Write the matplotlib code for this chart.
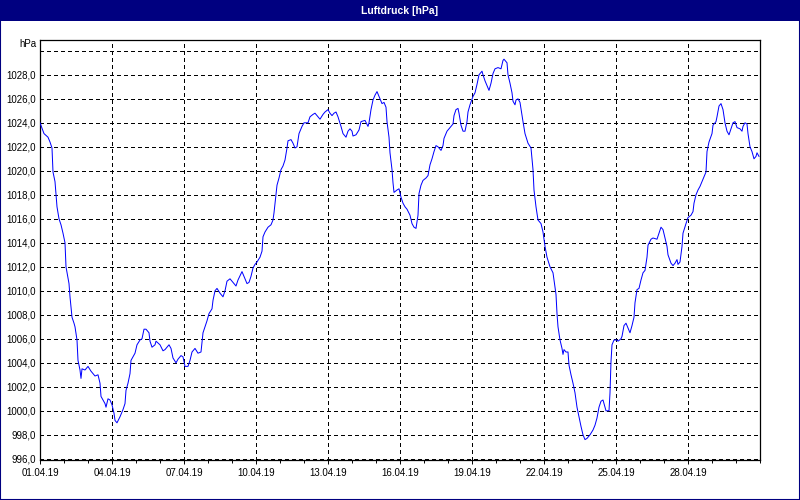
import numpy as np
import matplotlib
matplotlib.use("Agg")
import matplotlib.pyplot as plt
from matplotlib.patches import Rectangle
from matplotlib.ticker import MultipleLocator

# hours since 01.04.19 00:00
hours = [0, 4, 8, 10, 12, 13, 15, 16, 17, 19, 21, 23, 25, 26, 29, 30, 32, 34, 35, 37,
         38, 40, 41, 42, 45, 48, 51, 55, 58, 60, 61, 65, 66, 68, 70, 72, 74, 75, 77, 80,
         83, 85, 86, 88, 90, 91, 95, 97, 100, 102, 104, 106, 109, 110, 112, 115, 116, 120, 123, 125,
         129, 131, 133, 136, 138, 141, 143, 145, 148, 150, 152, 155, 158, 161, 163, 165, 167, 169, 172, 173,
         175, 177, 180, 183, 185, 187, 190, 193, 196, 198, 202, 204, 207, 209, 211, 213, 215, 217, 220, 222,
         223, 225, 228, 231, 233, 234, 236, 237, 239, 241, 243, 245, 247, 248, 251, 253, 255, 257, 259, 262,
         264, 268, 270, 273, 275, 277, 280, 283, 285, 288, 290, 292, 294, 296, 298, 301, 303, 306, 308, 310,
         312, 313, 316, 319, 321, 325, 328, 329, 331, 333, 335, 337, 339, 342, 344, 346, 347, 349, 350, 352,
         353, 354, 357, 359, 361, 363, 365, 367, 370, 372, 374, 376, 378, 379, 381, 383, 386, 388, 390, 392,
         394, 396, 398, 401, 403, 404, 407, 410, 413, 414, 416, 418, 419, 421, 423, 425, 427, 428, 430, 433,
         435, 437, 439, 442, 443, 445, 447, 449, 451, 453, 455, 458, 461, 463, 464, 467, 468, 470, 472, 473,
         475, 476, 478, 480, 482, 483, 485, 488, 491, 493, 494, 496, 498, 501, 503, 505, 507, 510, 513, 514,
         516, 517, 518, 520, 522, 523, 524, 526, 528, 529, 531, 533, 535, 537, 539, 541, 543, 545, 547, 550,
         553, 555, 557, 559, 561, 563, 565, 566, 569, 570, 571, 572, 574, 577, 578, 581, 582, 584, 586, 588,
         590, 592, 594, 595, 597, 599, 601, 603, 605, 607, 608, 611, 613, 617, 619, 621, 623, 625, 627, 628,
         631, 633, 635, 637, 638, 640, 642, 643, 646, 648, 651, 653, 654, 656, 658, 660, 662, 664, 666, 667,
         669, 672, 673, 676, 677, 679, 681, 683, 685, 687, 689, 691, 693, 695, 697, 700, 702, 703, 705, 707,
         708, 710, 712, 714, 716, 717, 719]

pressure = [1024.0, 1023.1, 1022.8, 1022.4, 1021.9, 1019.9, 1019.1, 1018.0, 1017.0, 1016.0, 1015.5, 1014.8, 1014.0, 1012.0, 1010.6, 1009.5, 1007.8, 1007.3, 1007.0, 1005.9,
            1004.2, 1003.4, 1002.7, 1003.5, 1003.4, 1003.7, 1003.3, 1002.9, 1003.0, 1002.3, 1001.2, 1000.6, 1000.3, 1001.0, 1000.9, 1000.5, 999.8, 999.2, 999.0, 999.5,
            1000.1, 1000.6, 1001.7, 1002.3, 1003.1, 1004.2, 1004.8, 1005.5, 1005.9, 1006.0, 1006.8, 1006.8, 1006.5, 1005.8, 1005.3, 1005.5, 1005.8, 1005.5, 1005.0, 1005.1,
            1005.5, 1005.2, 1004.4, 1004.0, 1004.3, 1004.6, 1004.5, 1003.7, 1003.7, 1004.2, 1004.9, 1005.2, 1004.8, 1004.9, 1006.5, 1007.0, 1007.5, 1008.1, 1008.5, 1009.2,
            1010.0, 1010.2, 1009.8, 1009.5, 1010.0, 1010.8, 1011.0, 1010.7, 1010.4, 1010.9, 1011.6, 1011.2, 1010.6, 1010.7, 1011.2, 1011.9, 1012.2, 1012.4, 1012.8, 1013.3,
            1014.5, 1014.9, 1015.3, 1015.5, 1015.9, 1016.5, 1018.0, 1018.8, 1019.4, 1020.1, 1020.4, 1020.9, 1021.9, 1022.5, 1022.6, 1022.3, 1021.9, 1022.0, 1023.1, 1023.7,
            1024.0, 1024.0, 1024.5, 1024.7, 1024.8, 1024.6, 1024.3, 1024.7, 1024.9, 1025.1, 1024.8, 1024.6, 1024.8, 1024.9, 1024.5, 1023.7, 1023.1, 1022.8, 1023.3, 1023.5,
            1023.3, 1022.9, 1023.0, 1023.4, 1024.1, 1024.2, 1023.7, 1024.0, 1025.1, 1025.9, 1026.3, 1026.6, 1026.2, 1025.6, 1025.7, 1025.3, 1024.1, 1022.8, 1021.5, 1020.1,
            1019.0, 1018.2, 1018.4, 1018.5, 1017.8, 1017.3, 1017.0, 1016.8, 1016.3, 1015.6, 1015.3, 1015.2, 1016.3, 1018.1, 1018.8, 1019.2, 1019.4, 1019.6, 1020.5, 1021.0,
            1021.6, 1022.1, 1022.0, 1021.7, 1022.1, 1022.7, 1023.3, 1023.6, 1023.9, 1024.6, 1025.1, 1025.2, 1024.8, 1023.8, 1023.3, 1023.3, 1024.1, 1024.9, 1025.5, 1026.2,
            1026.5, 1027.2, 1028.0, 1028.3, 1028.0, 1027.5, 1027.1, 1026.7, 1027.3, 1028.1, 1028.5, 1028.6, 1028.5, 1029.2, 1029.3, 1029.0, 1028.0, 1027.3, 1026.5, 1025.8,
            1025.5, 1025.9, 1026.0, 1025.7, 1024.6, 1024.1, 1023.1, 1022.3, 1021.9, 1020.1, 1018.4, 1017.0, 1015.9, 1015.6, 1014.9, 1013.7, 1012.8, 1012.0, 1011.5, 1010.9,
            1009.7, 1008.1, 1007.0, 1005.9, 1005.2, 1004.7, 1005.1, 1004.9, 1004.9, 1003.8, 1003.0, 1002.3, 1001.5, 1000.3, 999.5, 998.7, 998.0, 997.6, 997.7, 998.0,
            998.4, 998.8, 999.4, 1000.3, 1000.8, 1000.9, 1000.3, 1000.0, 1000.0, 1001.5, 1004.1, 1005.5, 1005.9, 1005.9, 1005.8, 1006.0, 1006.2, 1007.1, 1007.3, 1006.9,
            1006.5, 1007.1, 1007.8, 1009.0, 1010.1, 1010.2, 1010.9, 1011.5, 1011.7, 1012.8, 1013.8, 1014.3, 1014.4, 1014.3, 1014.8, 1015.3, 1015.1, 1014.4, 1013.7, 1013.0,
            1012.3, 1012.1, 1012.3, 1012.6, 1012.2, 1012.4, 1013.7, 1014.8, 1015.6, 1016.1, 1016.3, 1016.6, 1017.3, 1018.0, 1018.4, 1018.7, 1019.1, 1019.5, 1019.9, 1021.6,
            1022.4, 1023.1, 1023.8, 1024.1, 1024.5, 1025.4, 1025.6, 1025.1, 1024.0, 1023.3, 1023.0, 1023.5, 1024.0, 1024.1, 1023.6, 1023.5, 1023.3, 1023.7, 1024.0, 1023.9,
            1023.1, 1022.0, 1021.6, 1021.0, 1021.2, 1021.5, 1021.2]

date_labels = ["01.04.19", "04.04.19", "07.04.19", "10.04.19", "13.04.19",
               "16.04.19", "19.04.19", "22.04.19", "25.04.19", "28.04.19"]
y_ticks = list(range(996, 1031, 2))
title = "Luftdruck [hPa]"
unit = "hPa"

NAVY = "#000080"
FONT = "Liberation Sans"

fig = plt.figure(figsize=(8, 5), dpi=100)
fig.patch.set_facecolor("white")

# title bar and frame
fig.add_artist(Rectangle((0, 1 - 21 / 500), 1, 21 / 500, transform=fig.transFigure,
                         facecolor=NAVY, edgecolor="none", zorder=0))
fig.add_artist(Rectangle((0, 0), 1, 1, transform=fig.transFigure, fill=False,
                         edgecolor=NAVY, linewidth=1.5, zorder=5))
fig.text(0.5, 1 - 10.5 / 500, title, color="white", ha="center", va="center",
         fontsize=7.5, fontweight="bold", family=FONT)

ax = fig.add_axes([40 / 800, 40 / 500, 720 / 800, 420 / 500])
ax.set_facecolor("white")
ax.plot(hours, pressure, color="#0000FF", linewidth=0.72, antialiased=True, zorder=3)

ax.set_xlim(0, 720)
ax.set_ylim(995.9, 1030.9)

ax.set_xticks(np.arange(len(date_labels)) * 72)
ax.set_xticklabels(date_labels)
ax.xaxis.set_minor_locator(MultipleLocator(24))
ax.set_yticks(y_ticks)
ax.set_yticklabels([f"{v:.1f}".replace(".", ",") for v in y_ticks[:-1]] + [""])

ax.tick_params(axis="x", which="major", length=3, width=0.7, direction="out", pad=2.5,
               labelsize=7, colors="black")
ax.tick_params(axis="x", which="minor", length=2, width=0.7, direction="out")
ax.tick_params(axis="y", which="major", length=0, pad=3, labelsize=7)
for lab in ax.get_xticklabels() + ax.get_yticklabels():
    lab.set_family(FONT)

ax.grid(True, which="major", color="black", linestyle=(0, (3, 3)), linewidth=0.75,
        antialiased=False, zorder=1)
ax.set_axisbelow(True)
for sp in ax.spines.values():
    sp.set_color("black")
    sp.set_linewidth(0.9)

fig.text(37 / 800, 1 - 44 / 500, unit, ha="right", va="center", fontsize=7, family=FONT)

fig.savefig("out.png", dpi=100, facecolor=fig.get_facecolor())
